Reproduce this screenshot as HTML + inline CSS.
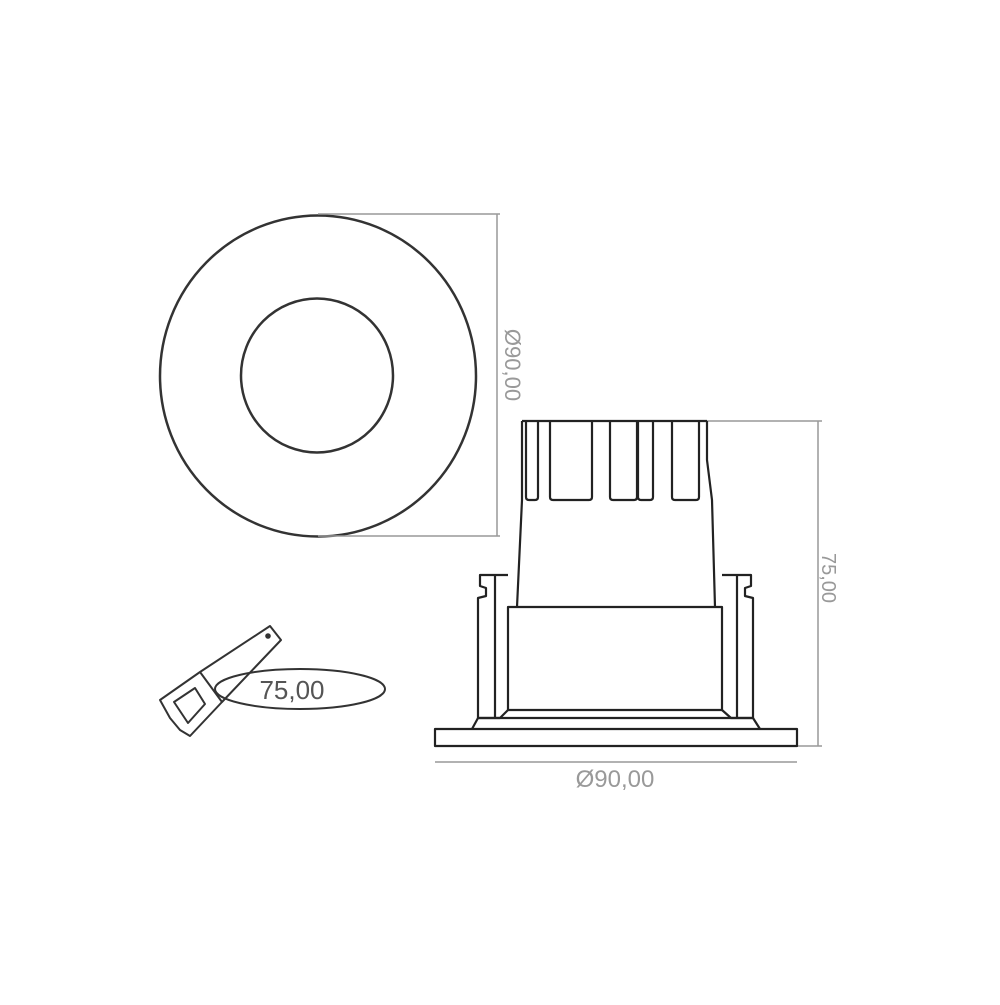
<!DOCTYPE html>
<html><head><style>html,body{margin:0;padding:0;background:#fff}</style></head>
<body>
<svg width="1000" height="1000" viewBox="0 0 1000 1000" xmlns="http://www.w3.org/2000/svg">
<g fill="none" stroke="#333" stroke-width="2.5">
<ellipse cx="318" cy="376" rx="158" ry="160.5"/>
<ellipse cx="317" cy="375.5" rx="76" ry="77"/>
</g>
<g stroke="#999" stroke-width="1.5" fill="none">
<line x1="318" y1="214" x2="500" y2="214"/>
<line x1="318" y1="536" x2="500" y2="536"/>
<line x1="497" y1="214" x2="497" y2="536"/>
<line x1="707" y1="421" x2="822" y2="421"/>
<line x1="797" y1="746" x2="822" y2="746"/>
<line x1="818" y1="421" x2="818" y2="746"/>
<line x1="435" y1="762" x2="797" y2="762"/>
</g>
<text transform="translate(505,365) rotate(90)" text-anchor="middle" font-family="Liberation Sans, DejaVu Sans, sans-serif" font-size="22" fill="#999">Ø90,00</text>
<text transform="translate(822,578) rotate(90)" text-anchor="middle" font-family="Liberation Sans, sans-serif" font-size="20" fill="#999">75,00</text>
<text x="615" y="787" text-anchor="middle" font-family="Liberation Sans, DejaVu Sans, sans-serif" font-size="24" fill="#999">Ø90,00</text>
<g fill="none" stroke="#222" stroke-width="2.2" stroke-linejoin="round">
<line x1="522" y1="421" x2="707" y2="421"/>
<path d="M522 421 L522 500 L517 607"/>
<path d="M707 421 L707 460 L712 500 L715 607"/>
<path d="M526 422 L526 497 Q526 500 529 500 L535 500 Q538 500 538 497 L538 422"/>
<path d="M550 422 L550 497 Q550 500 553 500 L589 500 Q592 500 592 497 L592 422"/>
<path d="M610 422 L610 497 Q610 500 613 500 L634 500 Q637 500 637 497 L637 422"/>
<path d="M638 422 L638 497 Q638 500 641 500 L650 500 Q653 500 653 497 L653 422"/>
<path d="M672 422 L672 497 Q672 500 675 500 L696 500 Q699 500 699 497 L699 422"/>
<rect x="508" y="607" width="214" height="103"/>
<path d="M508 575 L480 575 L480 586 L486 588 L486 596 L478 598 L478 718 L500 718 L508 710"/>
<line x1="495" y1="575" x2="495" y2="718"/>
<path d="M722 575 L751 575 L751 586 L745 588 L745 596 L753 598 L753 718 L731 718 L722 710"/>
<line x1="737" y1="575" x2="737" y2="718"/>
<path d="M472 729 L478 718 L753 718 L760 729"/>
<rect x="435" y="729" width="362" height="17"/>
</g>
<g fill="none" stroke="#333" stroke-width="2" stroke-linejoin="round">
<ellipse cx="300" cy="689" rx="85" ry="20" fill="#fff"/>
<path d="M200 672 L270 626 L281 640 L222 702"/>
<path d="M160 700 L200 672 L222 702 L190 736 L180 730 L170 718 Z" fill="#fff"/>
<path d="M174 702 L195 688 L205 704 L188 723 Z"/>
<circle cx="268" cy="636" r="1.8" fill="#333"/>
</g>
<text x="292" y="699" text-anchor="middle" font-family="Liberation Sans, sans-serif" font-size="26" fill="#555">75,00</text>
</svg>
</body></html>
